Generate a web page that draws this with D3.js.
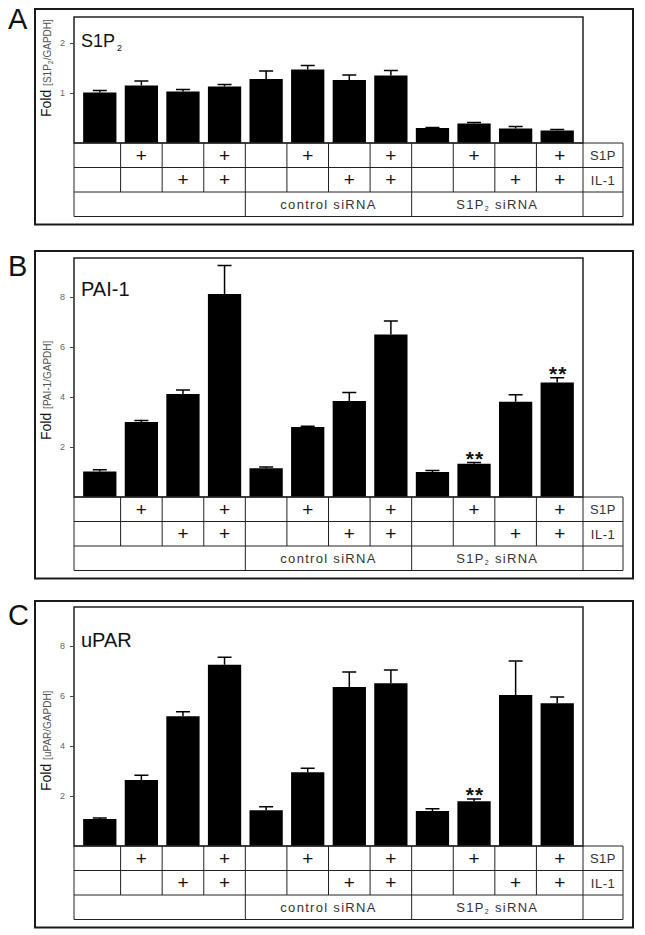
<!DOCTYPE html>
<html><head><meta charset="utf-8">
<script src="https://cdn.jsdelivr.net/npm/d3@7"></script>
<style>body{margin:0;background:#fff}svg{display:block}text{font-family:"Liberation Sans",Arial,sans-serif}</style>
</head><body>
<script>
// ---- data ----
const conditions = ["1","2","3","4","5","6","7","8","9","10","11","12"];
const s1pAdded  = [0,1,0,1, 0,1,0,1, 0,1,0,1];
const il1Added  = [0,0,1,1, 0,0,1,1, 0,0,1,1];
const groupLabels = ["", "control siRNA", "S1P2 siRNA"];
const s1p2Mean = [1.01,1.15,1.03,1.13, 1.28,1.47,1.26,1.35, 0.30,0.39,0.29,0.25];
const s1p2Err  = [0.04,0.09,0.04,0.04, 0.16,0.08,0.10,0.10, 0.01,0.02,0.04,0.02];
const pai1Mean = [1.02,3.00,4.12,8.12, 1.15,2.80,3.84,6.50, 1.00,1.33,3.81,4.58];
const pai1Err  = [0.07,0.06,0.16,1.14, 0.05,0.03,0.34,0.54, 0.06,0.05,0.28,0.19];
const uparMean = [1.08,2.64,5.19,7.25, 1.43,2.95,6.36,6.51, 1.40,1.79,6.04,5.71];
const uparErr  = [0.04,0.19,0.18,0.30, 0.14,0.16,0.60,0.53, 0.09,0.09,1.36,0.25];
const pai1Sig = [9, 11];
const uparSig = [9];
const s1p2Ticks = [1, 2];
const bigTicks = [2, 4, 6, 8];

const W = 645, H = 935;
const svg = d3.select("body").append("svg").attr("width", W).attr("height", H);

const x = d3.scaleBand().domain(conditions).range([79, 578]).paddingInner(0.2).paddingOuter(0.1);

const panels = [
  {letter:"A", title:"S1P", titleSub:"2", titleSize:18, mean:s1p2Mean, err:s1p2Err, sig:[], ticks:s1p2Ticks,
   outerTop:9, innerTop:17, base:143, ppu:50, lab:"[S1P", labSub:"2", labEnd:"/GAPDH]", labY:117, letterY:29, titleY:47},
  {letter:"B", title:"PAI-1", titleSub:"", titleSize:20, mean:pai1Mean, err:pai1Err, sig:pai1Sig, ticks:bigTicks,
   outerTop:251, innerTop:258, base:497, ppu:25, lab:"[PAI-1/GAPDH]", labSub:"", labEnd:"", labY:440, letterY:276, titleY:296},
  {letter:"C", title:"uPAR", titleSub:"", titleSize:20, mean:uparMean, err:uparErr, sig:uparSig, ticks:bigTicks,
   outerTop:601, innerTop:607, base:846, ppu:25, lab:"[uPAR/GAPDH]", labSub:"", labEnd:"", labY:791, letterY:625, titleY:647}
];

const L = 74, R = 583, TR = 623, OL = 35, OR = 633, rowH = 24.5;

panels.forEach(p => {
  const g = svg.append("g");
  const ymax = (p.base - p.innerTop) / p.ppu;
  const y = d3.scaleLinear().domain([0, ymax]).range([p.base, p.innerTop]);
  const tableBottom = p.base + 3*rowH;
  const outerBottom = tableBottom + 8;

  g.append("rect").attr("x", OL).attr("y", p.outerTop).attr("width", OR-OL).attr("height", outerBottom-p.outerTop)
    .attr("fill","none").attr("stroke","#1a1a1a").attr("stroke-width",2);
  g.append("text").attr("x", 8).attr("y", p.letterY).attr("font-size", 29).attr("fill","#111").text(p.letter);

  g.selectAll("rect.bar").data(p.mean).join("rect").attr("class","bar")
    .attr("x",(d,i)=>x(conditions[i])).attr("width",x.bandwidth())
    .attr("y",d=>y(d)).attr("height",d=>p.base-y(d)).attr("fill","#000");
  const eb = g.selectAll("g.eb").data(p.mean).join("g").attr("class","eb");
  eb.append("line").attr("x1",(d,i)=>x(conditions[i])+x.bandwidth()/2).attr("x2",(d,i)=>x(conditions[i])+x.bandwidth()/2)
    .attr("y1",d=>y(d)).attr("y2",(d,i)=>y(d+p.err[i])).attr("stroke","#000").attr("stroke-width",1.5);
  eb.append("line").attr("x1",(d,i)=>x(conditions[i])+x.bandwidth()/2-7).attr("x2",(d,i)=>x(conditions[i])+x.bandwidth()/2+7)
    .attr("y1",(d,i)=>y(d+p.err[i])).attr("y2",(d,i)=>y(d+p.err[i])).attr("stroke","#000").attr("stroke-width",1.5);
  p.sig.forEach(i => {
    g.append("text").attr("x", x(conditions[i])+x.bandwidth()/2+1).attr("y", y(p.mean[i]+p.err[i])+3)
      .attr("text-anchor","middle").attr("font-size",21).attr("font-weight","bold").attr("letter-spacing","1px").attr("fill","#111").text("**");
  });

  g.append("rect").attr("x", L).attr("y", p.innerTop).attr("width", R-L).attr("height", p.base-p.innerTop)
    .attr("fill","none").attr("stroke","#222").attr("stroke-width",1.5);

  const ax = g.append("g").attr("transform",`translate(${L},0)`)
    .call(d3.axisLeft(y).tickValues(p.ticks).tickSize(4).tickFormat(d3.format("d")));
  ax.select(".domain").remove();
  ax.selectAll(".tick line").attr("stroke","#444");
  ax.selectAll(".tick text").attr("font-size",9).attr("fill","#666").attr("x",-9).attr("font-family","Liberation Sans, Arial, sans-serif");

  const yl = g.append("text").attr("transform",`translate(51,${p.labY}) rotate(-90)`).attr("fill","#111");
  yl.append("tspan").attr("font-size",14).text("Fold ");
  yl.append("tspan").attr("font-size",10).attr("fill","#555").text(p.lab);
  if (p.labSub) {
    yl.append("tspan").attr("font-size",7).attr("fill","#555").attr("dy",2).text(p.labSub);
    yl.append("tspan").attr("font-size",10).attr("fill","#555").attr("dy",-2).text(p.labEnd);
  }

  const t = g.append("text").attr("x",81).attr("y",p.titleY).attr("font-size",p.titleSize).attr("fill","#111").text(p.title);
  if (p.titleSub) t.append("tspan").attr("font-size",9).attr("dy",4).attr("dx",2).text(p.titleSub);

  const tg = g.append("g").attr("stroke","#222").attr("stroke-width",1).attr("fill","none");
  const colEdge = i => i===0 ? L : (i===12 ? R : x(conditions[i]) - x.step()*x.paddingInner()/2);
  [0,1,2,3].forEach(r => tg.append("line").attr("x1",L).attr("x2",TR).attr("y1",p.base+r*rowH).attr("y2",p.base+r*rowH));
  for (let i=0;i<=12;i++) tg.append("line").attr("x1",colEdge(i)).attr("x2",colEdge(i)).attr("y1",p.base).attr("y2",p.base+2*rowH);
  tg.append("line").attr("x1",TR).attr("x2",TR).attr("y1",p.base).attr("y2",tableBottom);
  [0,4,8,12].forEach(i => tg.append("line").attr("x1",colEdge(i)).attr("x2",colEdge(i)).attr("y1",p.base+2*rowH).attr("y2",tableBottom));

  const cx = i => (colEdge(i)+colEdge(i+1))/2;
  g.selectAll("text.s1p").data(s1pAdded).join("text").attr("class","s1p")
    .attr("x",(d,i)=>cx(i)).attr("y",p.base+rowH/2+6.5).attr("text-anchor","middle").attr("font-size",19).attr("fill","#111")
    .text(d=>d?"+":"");
  g.selectAll("text.il1").data(il1Added).join("text").attr("class","il1")
    .attr("x",(d,i)=>cx(i)).attr("y",p.base+rowH*1.5+6.5).attr("text-anchor","middle").attr("font-size",19).attr("fill","#111")
    .text(d=>d?"+":"");
  g.append("text").attr("x",(R+TR)/2).attr("y",p.base+rowH/2+5).attr("text-anchor","middle").attr("font-size",13).attr("letter-spacing","0.5px").attr("fill","#333").text("S1P");
  g.append("text").attr("x",(R+TR)/2).attr("y",p.base+rowH*1.5+5).attr("text-anchor","middle").attr("font-size",13).attr("letter-spacing","0.5px").attr("fill","#333").text("IL-1");
  groupLabels.forEach((lab,k) => {
    if (!lab) return;
    const xm = (colEdge(k*4)+colEdge(k*4+4))/2;
    const tt = g.append("text").attr("x",xm).attr("y",p.base+rowH*2.5+5).attr("text-anchor","middle").attr("font-size",13).attr("letter-spacing","1.3px").attr("fill","#333");
    if (lab.startsWith("S1P2")) {
      tt.append("tspan").text("S1P");
      tt.append("tspan").attr("font-size",7).attr("dy",2).text("2");
      tt.append("tspan").attr("dy",-2).text(" siRNA");
    } else tt.text(lab);
  });
});
</script>
</body></html>
